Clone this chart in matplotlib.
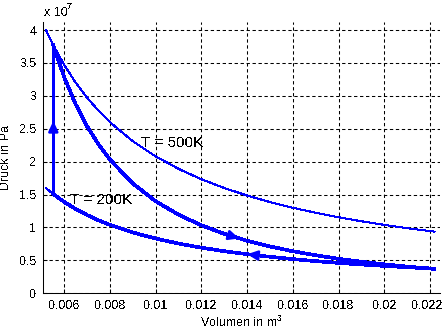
import matplotlib
matplotlib.use('Agg')
import matplotlib.pyplot as plt
import matplotlib.transforms as mtransforms

plt.rcParams['font.family'] = ['Liberation Sans', 'DejaVu Sans']
plt.rcParams['mathtext.default'] = 'regular'
plt.rcParams['lines.scale_dashes'] = False
plt.rcParams['text.antialiased'] = False

BLUE = '#0000ff'

# volume grid (m^3) and pressures (1e7 Pa)
vol_iso = [0.0052, 0.00552, 0.006, 0.0065, 0.007, 0.0075, 0.008, 0.009, 0.010,
           0.011, 0.012, 0.013, 0.014, 0.015, 0.016, 0.017, 0.018, 0.019,
           0.020, 0.021, 0.0222]
p_500 = [4.000, 3.768, 3.467, 3.200, 2.971, 2.773, 2.600, 2.311, 2.080,
         1.891, 1.733, 1.600, 1.486, 1.387, 1.300, 1.224, 1.156, 1.095,
         1.040, 0.990, 0.937]
p_200 = [1.600, 1.507, 1.387, 1.280, 1.189, 1.109, 1.040, 0.924, 0.832,
         0.756, 0.693, 0.640, 0.594, 0.555, 0.520, 0.489, 0.462, 0.438,
         0.416, 0.396, 0.375]

# adiabatic expansion branch of the cycle
vol_ad = [0.00552, 0.006, 0.0065, 0.007, 0.0075, 0.008, 0.009, 0.010, 0.011,
          0.012, 0.013, 0.014, 0.015, 0.016, 0.017, 0.018, 0.019, 0.020,
          0.021, 0.0222]
p_ad = [3.768, 3.279, 2.870, 2.536, 2.261, 2.030, 1.668, 1.399, 1.194,
        1.033, 0.904, 0.799, 0.712, 0.639, 0.578, 0.525, 0.480, 0.441,
        0.406, 0.370]

# isochoric step
vol_v = [0.00552, 0.00552]
p_v = [1.507, 3.768]

# isothermal compression (drawn thick) starts at the cycle volume
vol_low = vol_iso[1:]
p_low = p_200[1:]

# direction arrows: (from, to)
arrows = [
    ((0.00552, 2.20), (0.00552, 2.62)),
    ((0.0130, 0.904), (0.01365, 0.833)),
    ((0.0146, 0.570), (0.0140, 0.594)),
]

xticks = [0.006, 0.008, 0.010, 0.012, 0.014, 0.016, 0.018, 0.020, 0.022]
xtick_labels = ['0.006', '0.008', '0.01', '0.012', '0.014', '0.016',
                '0.018', '0.02', '0.022']
yticks = [0, 0.5, 1, 1.5, 2, 2.5, 3, 3.5, 4]
ytick_labels = ['0', '0.5', '1', '1.5', '2', '2.5', '3', '3.5', '4']

fig = plt.figure(figsize=(4.44, 3.31), dpi=100)
ax = fig.add_axes([43.3 / 444, (331 - 293.3) / 331,
                   (440 - 43.3) / 444, (293.3 - 22) / 331])

ax.plot(vol_iso, p_500, color=BLUE, lw=0.75, antialiased=False, zorder=3)
ax.plot(vol_iso, p_200, color=BLUE, lw=0.75, antialiased=False, zorder=3)
ax.plot(vol_ad, p_ad, color=BLUE, lw=1.9, antialiased=False, zorder=4)
ax.plot(vol_low, p_low, color=BLUE, lw=1.9, antialiased=False, zorder=4)
ax.plot(vol_v, p_v, color=BLUE, lw=1.9, antialiased=False, zorder=4)

for start, end in arrows:
    ax.annotate('', xy=end, xytext=start,
                arrowprops=dict(arrowstyle='-|>,head_length=0.6,head_width=0.28',
                                color=BLUE, lw=1.9, shrinkA=0, shrinkB=0),
                zorder=5)

ax.text(0.00936, 2.226, 'T = 500K', fontsize=11, va='baseline', ha='left')
ax.text(0.00625, 1.356, 'T = 200K', fontsize=11, va='baseline', ha='left')

ax.set_xlim(0.005081, 0.02244)
ax.set_ylim(0, 4.123)
ax.set_xticks(xticks)
ax.set_xticklabels(xtick_labels)
ax.set_yticks(yticks)
ax.set_yticklabels(ytick_labels)
ax.tick_params(direction='in', length=3, width=0.75, labelsize=9, pad=5)

# last tick label sits a little inward, as in the original
last = ax.get_xticklabels()[-1]
last.set_transform(last.get_transform() +
                   mtransforms.ScaledTranslation(-3 / 100, 0, fig.dpi_scale_trans))

ax.grid(True, color='black', lw=0.75, linestyle=(0, (2.4, 1.9)))
ax.set_axisbelow(True)
for spine in ['top', 'right']:
    ax.spines[spine].set_visible(False)
for spine in ['left', 'bottom']:
    ax.spines[spine].set_linewidth(0.75)
    ax.spines[spine].set_color('black')

ax.set_xlabel('Volumen in m$^{3}$', fontsize=9, labelpad=2)
ax.set_ylabel('Druck in Pa', fontsize=9, labelpad=5)

fig.text(44 / 444, 1 - 16 / 331, 'x 10', fontsize=9, va='baseline', ha='left')
fig.text(66.5 / 444, 1 - 9 / 331, '7', fontsize=6.5, va='baseline', ha='left')

fig.savefig('out.png', dpi=100)
